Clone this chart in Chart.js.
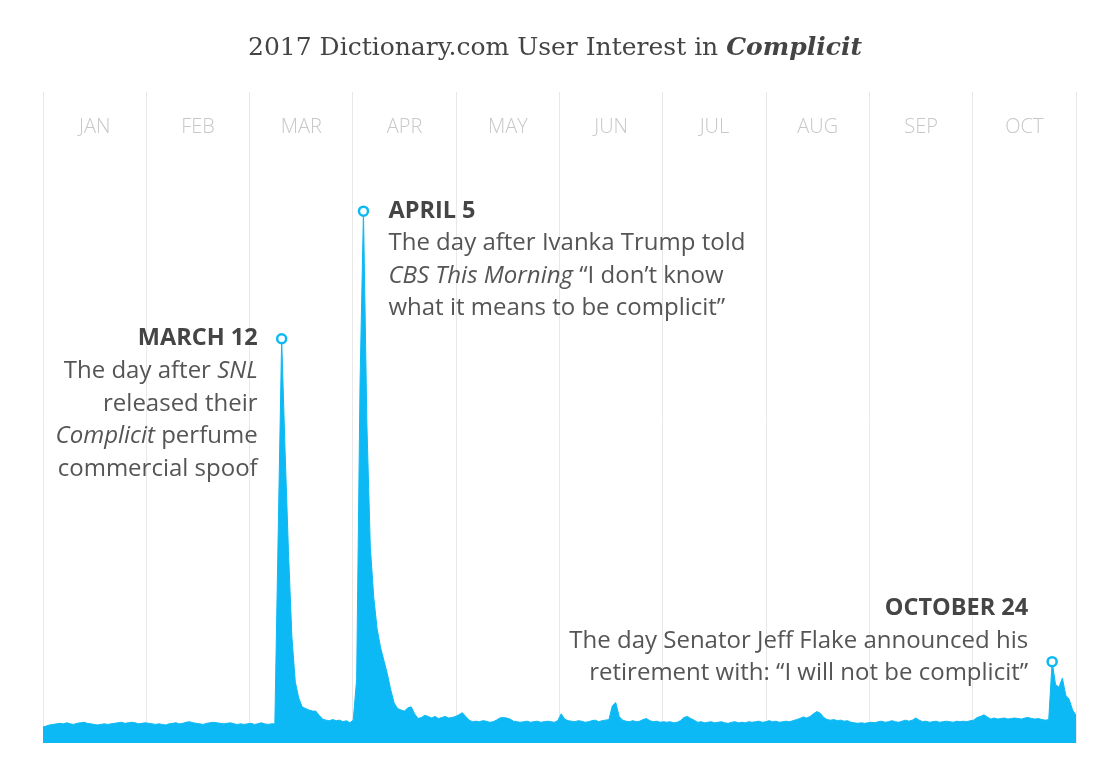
<!DOCTYPE html>
<html>
<head>
<meta charset="utf-8">
<script src="https://cdn.jsdelivr.net/npm/chart.js@4/dist/chart.umd.min.js"></script>
<style>
  body { margin: 0; background: #fff; }
  #wrap { position: relative; width: 1110px; height: 765px; }
  #title {
    position: absolute; left: 0; right: 0; top: 30px;
    text-align: center; font: 25px "DejaVu Serif", serif; color: #444;
    line-height: 34px;
  }
  #title b { font-style: italic; }
</style>
</head>
<body>
<div id="wrap">
  <div id="title">2017 Dictionary.com User Interest in <b>Complicit</b></div>
  <canvas id="interestChart" width="1110" height="765"></canvas>
</div>
<script>
// daily interest, Jan 1 - Oct 31 2017 (index, Apr 5 = 100)
const jan = [3.0,3.2,3.4,3.5,3.6,3.7,3.6,3.8,3.6,3.5,3.7,3.8,3.9,3.7,3.6,3.5,3.4,3.5,3.6,3.5,3.6,3.7,3.8,3.9,3.7,3.8,3.9,3.8,3.6,3.7,3.8];
const feb = [3.7,3.6,3.5,3.6,3.5,3.4,3.6,3.7,3.8,3.6,3.7,3.9,4.0,3.8,3.7,3.6,3.5,3.7,3.8,3.9,3.8,3.7,3.6,3.7,3.8,3.6,3.5,3.6];
const mar = [3.5,3.6,3.7,3.5,3.6,3.8,3.6,3.5,3.6,3.6,40,76,55,36,20,11.5,8.5,6.8,6.5,6.2,6.0,6.0,5.2,4.5,4.3,4.2,4.4,4.2,4.3,4.0,4.2];
const apr = [3.8,4.3,12,68,100,60,37,27.5,21.5,18,15.5,13,10,7.5,6.5,6.2,6.0,6.6,6.8,5.5,4.6,4.8,5.2,5.0,4.7,5.0,4.6,4.8,5.0,4.7];
const may = [4.8,5.0,5.3,5.7,5.0,4.3,4.0,4.1,4.0,4.2,4.1,3.9,4.0,4.3,4.7,4.8,4.7,4.5,4.1,4.0,3.9,4.0,4.1,3.9,4.0,4.1,3.9,4.0,4.1,4.0,3.9];
const jun = [4.2,5.5,4.5,4.2,4.1,4.0,4.2,4.1,3.9,4.0,4.2,4.3,4.0,4.2,4.3,4.4,7.0,7.6,5.0,4.3,4.1,4.0,4.2,4.0,4.1,4.4,4.6,4.2,4.0,4.1];
const jul = [3.9,4.0,3.9,4.0,3.8,3.9,4.2,4.8,5.0,4.6,4.3,3.9,4.0,3.8,3.9,4.0,3.8,3.9,4.0,3.8,3.7,3.9,4.0,3.8,3.9,3.8,4.0,3.9,4.0,4.1,3.9];
const aug = [4.0,4.2,4.0,4.1,3.9,4.0,4.1,4.0,4.2,4.4,4.6,4.9,4.7,5.0,5.5,5.9,5.6,4.8,4.4,4.3,4.4,4.2,4.3,4.1,4.2,3.9,3.8,3.7,3.8,3.7,3.8];
const sep = [3.9,3.8,4.0,4.1,3.9,4.0,4.2,4.0,3.9,4.1,4.3,4.1,4.3,4.7,4.3,4.0,4.1,3.9,4.0,4.1,3.9,4.0,4.1,4.0,3.9,4.1,4.0,4.1,4.0,4.2];
const oct = [4.3,4.8,5.0,5.3,4.9,4.5,4.7,4.5,4.6,4.7,4.5,4.6,4.7,4.6,4.5,4.7,4.8,4.6,4.5,4.6,4.4,4.3,4.4,15.3,11,10.5,12.2,9,8.2,6.2,5.2];

const interest = [].concat(jan, feb, mar, apr, may, jun, jul, aug, sep, oct);

const monthLabels = ['JAN', 'FEB', 'MAR', 'APR', 'MAY', 'JUN', 'JUL', 'AUG', 'SEP', 'OCT'];
const gridTicks = [0, 30.3, 60.6, 90.9, 121.2, 151.5, 181.8, 212.1, 242.4, 272.7, 303];
const labelTicks = [15.15, 45.45, 75.75, 106.05, 136.35, 166.65, 196.95, 227.25, 257.55, 287.85];

// annotated days (index into interest)
const eventDays = [70, 94, 296];
const eventTitles = ['MARCH 12', 'APRIL 5', 'OCTOBER 24'];
const eventLines = [
    [[['The day after ', 0], ['SNL', 1]], [['released their', 0]], [['Complicit', 1], [' perfume', 0]], [['commercial spoof', 0]]],
    [[['The day after Ivanka Trump told', 0]], [['CBS This Morning', 1], [' \u201cI don\u2019t know', 0]], [['what it means to be complicit\u201d', 0]]],
    [[['The day Senator Jeff Flake announced his', 0]], [['retirement with: \u201cI will not be complicit\u201d', 0]]]
];

const BLUE = '#0db9f4';
const FONT = '"Open Sans", sans-serif';

// where each note sits relative to its point
const noteLayout = [
    { side: 'left', dx: -24, dy: 0 },
    { side: 'right', dx: 25, dy: 0 },
    { side: 'left', dx: -24, dy: -53 }
];

const notesPlugin = {
    id: 'notes',
    afterDraw(chart) {
        const ctx = chart.ctx;
        const xs = chart.scales.x;
        const area = chart.chartArea;
        ctx.save();

        // month names inside the plot, between grid lines
        ctx.font = '300 20px ' + FONT;
        ctx.fillStyle = '#c8c8c8';
        ctx.textAlign = 'center';
        ctx.textBaseline = 'middle';
        monthLabels.forEach((m, i) => {
            ctx.fillText(m, xs.getPixelForValue(labelTicks[i]), area.top + 35);
        });

        const meta = chart.getDatasetMeta(0);
        ctx.textAlign = 'left';
        eventDays.forEach((day, n) => {
            const pt = meta.data[day];
            const lay = noteLayout[n];
            const anchorX = pt.x + lay.dx;
            let y = pt.y + lay.dy;

            ctx.font = 'bold 23.5px ' + FONT;
            ctx.fillStyle = '#454545';
            const hw = ctx.measureText(eventTitles[n]).width;
            ctx.fillText(eventTitles[n], lay.side === 'left' ? anchorX - hw : anchorX, y);

            eventLines[n].forEach(line => {
                y += 32.5;
                let total = 0;
                line.forEach(seg => {
                    ctx.font = (seg[1] ? 'italic ' : '') + '24px ' + FONT;
                    total += ctx.measureText(seg[0]).width;
                });
                let x = lay.side === 'left' ? anchorX - total : anchorX;
                ctx.fillStyle = '#555';
                line.forEach(seg => {
                    ctx.font = (seg[1] ? 'italic ' : '') + '24px ' + FONT;
                    ctx.fillText(seg[0], x, y);
                    x += ctx.measureText(seg[0]).width;
                });
            });
        });
        ctx.restore();
    }
};

new Chart(document.getElementById('interestChart'), {
    type: 'line',
    data: {
        datasets: [{
            data: interest.map((v, i) => ({ x: i, y: v })),
            borderColor: BLUE,
            borderWidth: 1,
            backgroundColor: BLUE,
            fill: 'origin',
            tension: 0,
            pointRadius: ctx => eventDays.includes(ctx.dataIndex) ? 4.5 : 0,
            pointBackgroundColor: '#fff',
            pointBorderColor: BLUE,
            pointBorderWidth: 2.5,
            pointHoverRadius: 0
        }]
    },
    options: {
        responsive: false,
        animation: false,
        events: [],
        layout: { padding: { left: 43, right: 34, top: 92, bottom: 22 } },
        scales: {
            x: {
                type: 'linear',
                min: 0,
                max: 303,
                afterBuildTicks: scale => { scale.ticks = gridTicks.map(v => ({ value: v })); },
                ticks: { display: false },
                grid: { color: '#e8e8e8', lineWidth: 1, drawTicks: false },
                border: { display: false }
            },
            y: {
                display: false,
                min: 0,
                max: 122.4
            }
        },
        plugins: {
            legend: { display: false },
            tooltip: { enabled: false }
        }
    },
    plugins: [notesPlugin]
});
</script>
</body>
</html>
